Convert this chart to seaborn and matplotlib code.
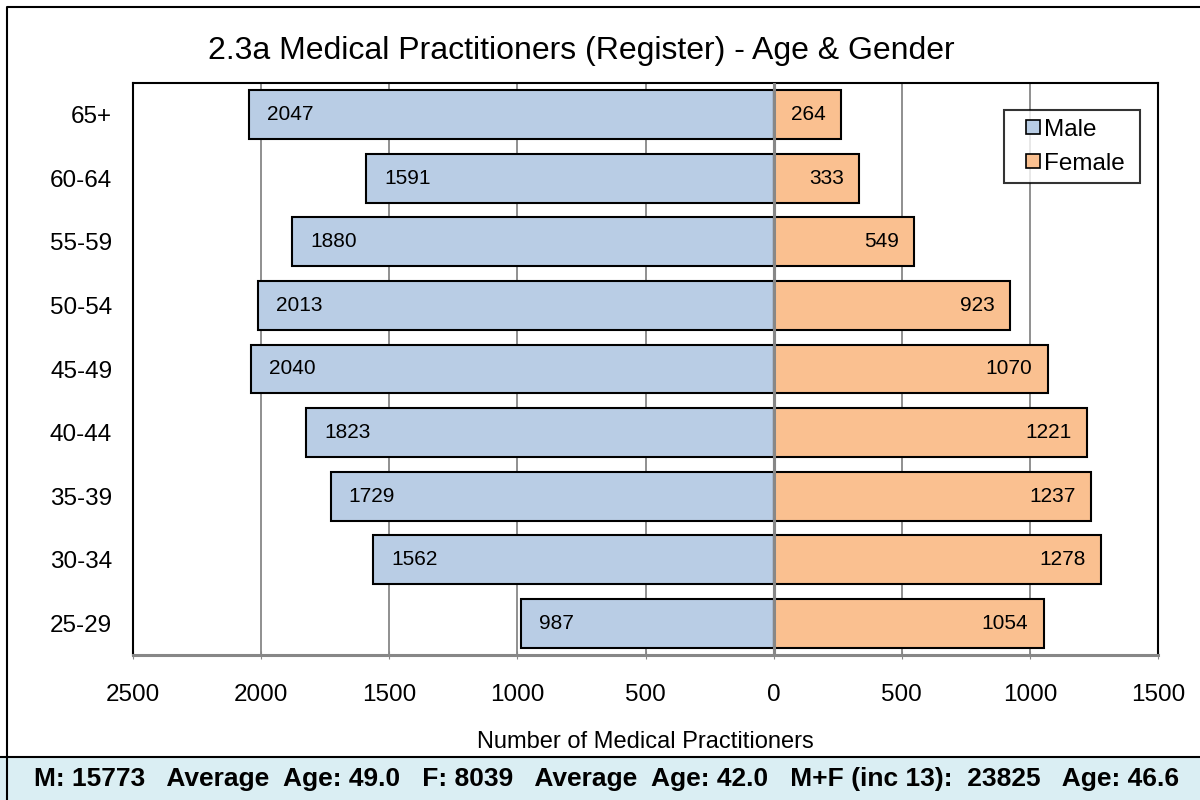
import numpy as np
import pandas as pd
import matplotlib
matplotlib.use('Agg')
import matplotlib.pyplot as plt
import matplotlib.patches as mpatches
from matplotlib.lines import Line2D
import seaborn as sns

# data (top row first)
age_groups = ['65+', '60-64', '55-59', '50-54', '45-49', '40-44', '35-39', '30-34', '25-29']
male = [2047, 1591, 1880, 2013, 2040, 1823, 1729, 1562, 987]
female = [264, 333, 549, 923, 1070, 1221, 1237, 1278, 1054]
x_ticks = [-2500, -2000, -1500, -1000, -500, 0, 500, 1000, 1500]

title = '2.3a Medical Practitioners (Register) - Age & Gender'
x_label = 'Number of Medical Practitioners'
summary = ('M: 15773   Average  Age: 49.0   F: 8039   Average  Age: 42.0   '
           'M+F (inc 13):  23825   Age: 46.6')

male_color = '#B9CDE5'
female_color = '#FAC090'
grid_color = '#878787'

sns.set_style('white')
plt.rcParams['font.family'] = ['Liberation Sans', 'DejaVu Sans']
plt.rcParams['text.color'] = 'black'
plt.rcParams['xtick.color'] = 'black'
plt.rcParams['ytick.color'] = 'black'
plt.rcParams['axes.labelcolor'] = 'black'

df = pd.DataFrame({'age': age_groups, 'male': male, 'female': female})
df['male_neg'] = -df['male']

fig = plt.figure(figsize=(12, 8), dpi=100)
ax = fig.add_axes([133 / 1200, 1 - 655 / 800, (1158 - 133) / 1200, (655 - 83) / 800])

# gridlines behind bars
for xt in x_ticks[1:-1]:
    ax.axvline(xt, color=grid_color, lw=1.3 if xt != 0 else 2.2, zorder=0)

sns.barplot(data=df, x='male_neg', y='age', order=age_groups, orient='h',
            color=male_color, width=0.77, edgecolor='black', linewidth=1.5,
            saturation=1, ax=ax, zorder=2)
sns.barplot(data=df, x='female', y='age', order=age_groups, orient='h',
            color=female_color, width=0.77, edgecolor='black', linewidth=1.5,
            saturation=1, ax=ax, zorder=2)
ax.axvline(0, color=grid_color, lw=2.2, zorder=3)

# value labels
for i, row in df.iterrows():
    ax.annotate(str(row['male']), xy=(-row['male'], i), xytext=(13, 0),
                textcoords='offset points', ha='left', va='center', fontsize=15, zorder=4)
    ax.annotate(str(row['female']), xy=(row['female'], i), xytext=(-11, 0),
                textcoords='offset points', ha='right', va='center', fontsize=15, zorder=4)

ax.set_xlim(-2500, 1500)
ax.set_ylim(len(age_groups) - 0.5, -0.5)
ax.set_xticks(x_ticks)
ax.set_xticklabels([str(abs(v)) for v in x_ticks])
ax.tick_params(axis='x', labelsize=17.5, pad=18, direction='inout', length=6,
               color=grid_color, labelcolor='black', bottom=True)
ax.tick_params(axis='y', labelsize=17.5, pad=15, length=0, labelcolor='black')
ax.set_xlabel('')
ax.set_ylabel('')

for side in ['left', 'top', 'right']:
    ax.spines[side].set_color('black')
    ax.spines[side].set_linewidth(1.5)
ax.spines['bottom'].set_color(grid_color)
ax.spines['bottom'].set_linewidth(2.2)

handles = [Line2D([], [], marker='s', linestyle='none', markersize=10, markerfacecolor=male_color,
                  markeredgecolor='black', markeredgewidth=1.2, label='Male'),
           Line2D([], [], marker='s', linestyle='none', markersize=10, markerfacecolor=female_color,
                  markeredgecolor='black', markeredgewidth=1.2, label='Female ')]
leg = ax.legend(handles=handles, loc='upper right', bbox_to_anchor=(1140 / 1200, 1 - 110 / 800),
                bbox_transform=fig.transFigure, fontsize=17.5, frameon=True, fancybox=False,
                handlelength=1.7, handletextpad=-0.39, borderpad=0.35,
                labelspacing=0.5, borderaxespad=0)
leg.get_frame().set_edgecolor('black')
leg.get_frame().set_linewidth(1.5)

fig.text(581 / 1200, 1 - 51 / 800, title, ha='center', va='center', fontsize=23)
fig.text(645 / 1200, 1 - 742 / 800, x_label, ha='center', va='center', fontsize=17)

# summary strip and outer border
fig.patches.append(mpatches.Rectangle((0, 0), 1, 1 - 757 / 800, transform=fig.transFigure,
                                      facecolor='#DAEEF3', edgecolor='none', zorder=0))
fig.add_artist(plt.Line2D([0, 1], [1 - 757 / 800] * 2, transform=fig.transFigure,
                          color='black', lw=1.5))
fig.add_artist(plt.Line2D([7 / 1200, 7 / 1200, 1], [0, 1 - 7 / 800, 1 - 7 / 800],
                          transform=fig.transFigure, color='black', lw=1.5))
fig.text(607 / 1200, 1 - 779 / 800, summary, ha='center', va='center',
         fontsize=19, fontweight='bold')

fig.savefig('out.png', dpi=100)
